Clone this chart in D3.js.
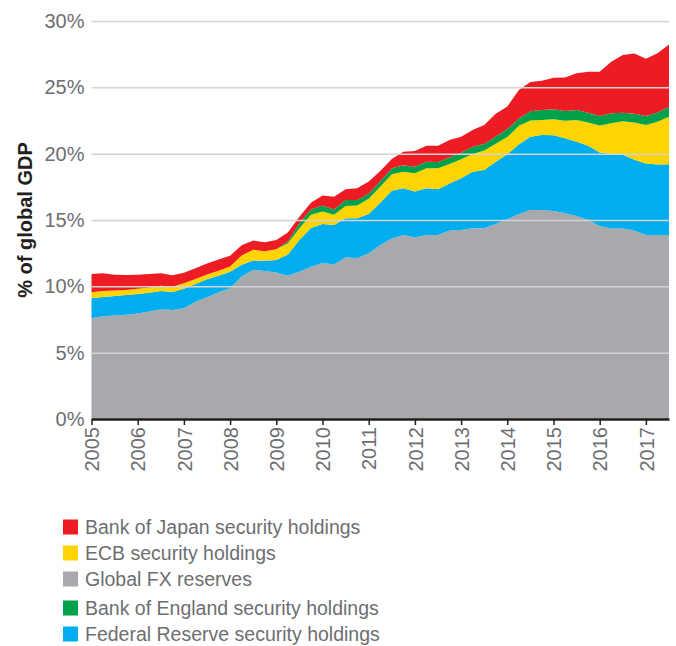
<!DOCTYPE html>
<html>
<head>
<meta charset="utf-8">
<script src="https://cdn.jsdelivr.net/npm/d3@7"></script>
<style>
  body { margin: 0; background: #fff; }
  svg text { font-family: "Liberation Sans", Arial, sans-serif; }
</style>
</head>
<body>
<div id="chart"></div>
<script>
// quarterly observations, % of global GDP
const dates = [2005, 2005.25, 2005.5, 2005.75, 2006, 2006.25, 2006.5, 2006.75,
    2007, 2007.25, 2007.5, 2007.75, 2008, 2008.25, 2008.5, 2008.75,
    2009, 2009.25, 2009.5, 2009.75, 2010, 2010.25, 2010.5, 2010.75,
    2011, 2011.25, 2011.5, 2011.75, 2012, 2012.25, 2012.5, 2012.75,
    2013, 2013.25, 2013.5, 2013.75, 2014, 2014.25, 2014.5, 2014.75,
    2015, 2015.25, 2015.5, 2015.75, 2016, 2016.25, 2016.5, 2016.75,
    2017, 2017.25, 2017.5];

const fxReserves = [7.6, 7.75, 7.8, 7.85, 7.96, 8.1, 8.27, 8.22,
    8.34, 8.84, 9.17, 9.55, 9.85, 10.75, 11.25, 11.15,
    11.05, 10.8, 11.1, 11.48, 11.75, 11.65, 12.19, 12.11,
    12.49, 13.12, 13.6, 13.87, 13.69, 13.87, 13.87, 14.2,
    14.25, 14.37, 14.37, 14.7, 15.05, 15.45, 15.75, 15.75,
    15.68, 15.5, 15.3, 15.0, 14.55, 14.35, 14.35, 14.2,
    13.87, 13.85, 13.87];

const fedHoldings = [1.5, 1.45, 1.48, 1.5, 1.46, 1.42, 1.38, 1.35,
    1.48, 1.34, 1.36, 1.25, 1.25, 0.88, 0.7, 0.77,
    0.93, 1.6, 2.4, 2.92, 2.95, 2.97, 2.94, 3.02,
    2.96, 3.18, 3.6, 3.52, 3.45, 3.52, 3.44, 3.56,
    3.89, 4.27, 4.4, 4.7, 4.9, 5.25, 5.53, 5.66,
    5.7, 5.66, 5.6, 5.6, 5.53, 5.63, 5.57, 5.35,
    5.38, 5.33, 5.33];

const ecbHoldings = [0.45, 0.45, 0.4, 0.37, 0.4, 0.4, 0.4, 0.4,
    0.41, 0.37, 0.37, 0.38, 0.4, 0.7, 0.81, 0.73,
    0.82, 0.85, 0.87, 1.0, 0.95, 0.78, 0.93, 0.97,
    1.15, 1.2, 1.25, 1.25, 1.38, 1.51, 1.59, 1.46,
    1.43, 1.33, 1.46, 1.35, 1.3, 1.4, 1.22, 1.13,
    1.21, 1.33, 1.64, 1.74, 2.04, 2.32, 2.53, 2.79,
    2.91, 3.23, 3.59];

const boeHoldings = [0, 0, 0, 0, 0, 0, 0, 0,
    0, 0, 0, 0, 0, 0, 0, 0,
    0, 0.15, 0.38, 0.4, 0.45, 0.4, 0.44, 0.4,
    0.38, 0.42, 0.45, 0.48, 0.5, 0.5, 0.48, 0.5,
    0.5, 0.55, 0.5, 0.55, 0.6, 0.56, 0.7, 0.75,
    0.75, 0.73, 0.75, 0.75, 0.72, 0.74, 0.64, 0.66,
    0.68, 0.69, 0.73];

const bojHoldings = [1.38, 1.33, 1.2, 1.13, 1.06, 1.01, 0.93, 0.86,
    0.8, 0.81, 0.83, 0.85, 0.8, 0.77, 0.69, 0.68,
    0.7, 0.65, 0.5, 0.5, 0.75, 0.95, 0.81, 0.89,
    0.92, 0.78, 0.7, 1.03, 1.18, 1.2, 1.22, 1.31,
    1.21, 1.26, 1.43, 1.7, 1.7, 2.14, 2.2, 2.21,
    2.38, 2.53, 2.77, 3.09, 3.34, 3.89, 4.35, 4.55,
    4.31, 4.46, 4.7];

const yearTicks = [2005, 2006, 2007, 2008, 2009, 2010, 2011, 2012, 2013, 2014, 2015, 2016, 2017];
const pctTicks = [0, 5, 10, 15, 20, 25, 30];

// stack order bottom -> top
const keys = ["fx", "fed", "ecb", "boe", "boj"];
const colors = { fx: "#a7a9ac", fed: "#00aeef", ecb: "#ffd400", boe: "#00a14b", boj: "#ed1c24" };

const legendKeys = ["boj", "ecb", "fx", "boe", "fed"];
const legendLabels = ["Bank of Japan security holdings", "ECB security holdings", "Global FX reserves",
    "Bank of England security holdings", "Federal Reserve security holdings"];

let table = dates.map((d, i) => ({
    date: d,
    fx: fxReserves[i],
    fed: fedHoldings[i],
    ecb: ecbHoldings[i],
    boe: boeHoldings[i],
    boj: bojHoldings[i]
}));

let width = 676, height = 646;
let svg = d3.select("#chart").append("svg")
    .attr("width", width)
    .attr("height", height);

let x = d3.scaleLinear().domain([2005, 2017.5]).range([91.5, 669]);
let y = d3.scaleLinear().domain([0, 30]).range([419, 21]);

let stacked = d3.stack().keys(keys)(table);

let area = d3.area()
    .x(d => x(d.data.date))
    .y0(d => y(d[0]))
    .y1(d => y(d[1]));

svg.append("g")
    .selectAll("path")
    .data(stacked)
    .enter()
    .append("path")
    .attr("d", area)
    .attr("fill", d => colors[d.key]);

// gridlines + % labels (drawn on top of the areas)
let yAxis = d3.axisLeft(y)
    .tickValues(pctTicks)
    .tickSize(-(x.range()[1] - x.range()[0]))
    .tickPadding(7)
    .tickFormat(d => d + "%");

let yg = svg.append("g")
    .attr("transform", "translate(" + x.range()[0] + ",0)")
    .call(yAxis);
yg.select(".domain").remove();
yg.selectAll("line").attr("stroke", "#d1d3d4").attr("stroke-width", 1.5);
yg.selectAll("text")
    .attr("fill", "#6d6e71")
    .style("font-size", "20px");

// year axis
let xAxis = d3.axisBottom(x)
    .tickValues(yearTicks)
    .tickSize(6)
    .tickSizeOuter(0)
    .tickFormat(d3.format("d"));

let xg = svg.append("g")
    .attr("transform", "translate(0," + y(0) + ")")
    .call(xAxis);
xg.select(".domain").attr("stroke", "#231f20").attr("stroke-width", 2.5);
xg.selectAll("line").attr("stroke", "#231f20").attr("stroke-width", 1.5);
xg.selectAll("text")
    .attr("transform", "rotate(-90)")
    .attr("x", -8)
    .attr("y", 0)
    .attr("dy", "0.36em")
    .style("text-anchor", "end")
    .style("font-size", "20px")
    .attr("fill", "#6d6e71");

svg.append("text")
    .attr("transform", "translate(25," + (y(0) + y(30)) / 2 + ") rotate(-90)")
    .attr("text-anchor", "middle")
    .attr("dy", "0.35em")
    .style("font-size", "20px")
    .style("font-weight", "bold")
    .attr("fill", "#231f20")
    .text("% of global GDP");

// legend
let legend = svg.append("g")
    .selectAll("g")
    .data(legendKeys)
    .enter()
    .append("g")
    .attr("transform", (d, i) => "translate(63," + (527 + i * 26 + (i >= 3 ? 3 : 0)) + ")");

legend.append("rect")
    .attr("x", 0)
    .attr("y", -7.5)
    .attr("width", 15)
    .attr("height", 15)
    .attr("fill", d => colors[d]);

legend.append("text")
    .attr("x", 22)
    .attr("dy", "0.36em")
    .style("font-size", "19.5px")
    .attr("fill", "#6d6e71")
    .text((d, i) => legendLabels[i]);
</script>
</body>
</html>
